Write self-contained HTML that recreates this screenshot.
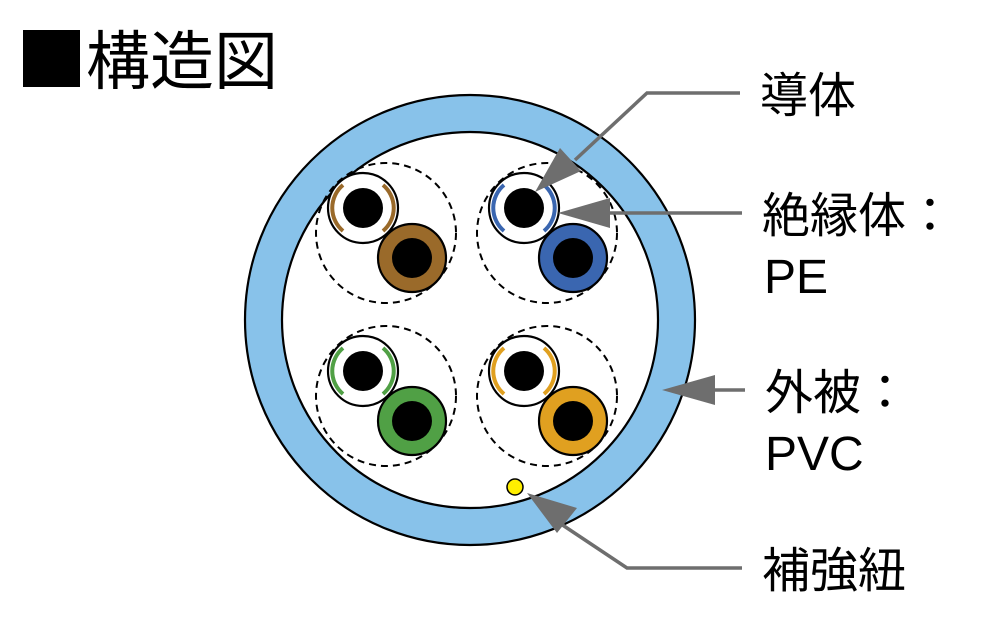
<!DOCTYPE html>
<html><head><meta charset="utf-8"><style>
body{margin:0;background:#fff;width:982px;height:617px;overflow:hidden}
svg{display:block}
text{font-family:"Liberation Sans","Noto Sans CJK JP",sans-serif;fill:#000}
</style></head><body>
<svg width="982" height="617" viewBox="0 0 982 617">
<defs>
<g id="pair">
  <circle cx="0" cy="0" r="70" fill="none" stroke="#000" stroke-width="2" stroke-dasharray="7,5"/>
  <circle cx="-23" cy="-25" r="35" fill="#fff" stroke="#000" stroke-width="2.2"/>
  <circle cx="-23" cy="-25" r="20" fill="#000"/>
  <circle cx="26" cy="25" r="34" fill="var(--c)" stroke="#000" stroke-width="2.2"/>
  <circle cx="26" cy="25" r="20" fill="#000"/>
</g>
</defs>
<rect x="23" y="30" width="57" height="57" fill="#000"/>
<text x="86" y="84" font-size="64">構造図</text>

<circle cx="470" cy="320" r="225" fill="#88c2ea" stroke="#000" stroke-width="2.2"/>
<circle cx="470" cy="320" r="188" fill="#fff" stroke="#000" stroke-width="2.2"/>

<g transform="translate(386,233)" style="--c:#9a6a2a"><use href="#pair"/></g>
<g transform="translate(547,233)" style="--c:#3a66b0"><use href="#pair"/></g>
<g transform="translate(386,396)" style="--c:#50a045"><use href="#pair"/></g>
<g transform="translate(547,396)" style="--c:#e0a020"><use href="#pair"/></g>

<!-- stripes -->
<g fill="none" stroke-width="4">
<g stroke="#9a6a2a"><path d="M343,185 A30,30 0 0 0 343,231"/><path d="M383,185 A30,30 0 0 1 383,231"/></g>
<g stroke="#3a66b0"><path d="M504,185 A30,30 0 0 0 504,231"/><path d="M544,185 A30,30 0 0 1 544,231"/></g>
<g stroke="#50a045"><path d="M343,348 A30,30 0 0 0 343,394"/><path d="M383,348 A30,30 0 0 1 383,394"/></g>
<g stroke="#e0a020"><path d="M504,348 A30,30 0 0 0 504,394"/><path d="M544,348 A30,30 0 0 1 544,394"/></g>
</g>

<circle cx="515" cy="487" r="8" fill="#ffee00" stroke="#000" stroke-width="1.5"/>

<!-- arrows -->
<g stroke="#6e6e6e" stroke-width="3.5" fill="none">
<polyline points="740,93 647,93 575,160"/>
<line x1="742" y1="213" x2="605" y2="213"/>
<line x1="745" y1="390" x2="710" y2="390"/>
<polyline points="742,568 627,568 555,520"/>
</g>
<g fill="#6e6e6e">
<polygon points="535,192 560,148 581,171"/>
<polygon points="558,213 610,198 610,228"/>
<polygon points="662,390 715,375 715,405"/>
<polygon points="527,493 577,508 557,533"/>
</g>

<text x="760" y="112" font-size="48">導体</text>
<text x="762" y="232" font-size="48">絶縁体：</text>
<text x="764" y="293" font-size="48">PE</text>
<text x="765" y="409" font-size="48">外被：</text>
<text x="765" y="470" font-size="48">PVC</text>
<text x="762" y="587" font-size="48">補強紐</text>
</svg>
</body></html>
